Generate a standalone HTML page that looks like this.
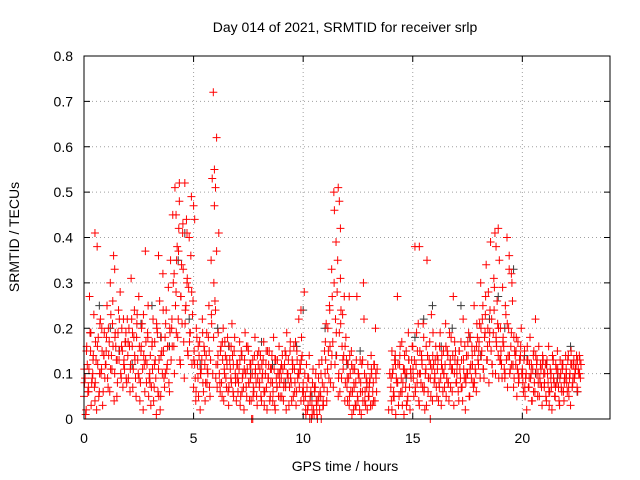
<!DOCTYPE html>
<html><head><meta charset="utf-8"><style>
html,body{margin:0;padding:0;background:#fff;}
svg{display:block;font-family:"Liberation Sans",sans-serif;}
</style></head><body>
<svg id="chart" width="640" height="480" viewBox="0 0 640 480" xmlns="http://www.w3.org/2000/svg">
<rect width="640" height="480" fill="#fff"/>
<g id="grid"></g>
<g id="marks"></g>
<g id="axes"></g>
<text x="345" y="32" font-size="14" text-anchor="middle">Day 014 of 2021, SRMTID for receiver srlp</text>
<text x="345" y="471" font-size="14" text-anchor="middle">GPS time / hours</text>
<text x="0" y="0" font-size="14" text-anchor="middle" transform="translate(19,237) rotate(-90)">SRMTID / TECUs</text>
</svg>
<script>
const xTicks=[0,5,10,15,20];
const yTicks=[0,0.1,0.2,0.3,0.4,0.5,0.6,0.7,0.8];
const yTickLabels=["0","0.1","0.2","0.3","0.4","0.5","0.6","0.7","0.8"];
const blockHours=[0,1,2,3,4,5,6,7,8,9,10,11,12,13,14,15,16,17,18,19,20,21,22];
const redV=[
[.05,.09,.02,.12,.07,.27,.15,.08,.10,.23,.04,.13,.38,.18,.06,.22,.11,.03,.14,.09],
[.12,.25,.07,.17,.30,.14,.21,.36,.10,.16,.05,.19,.13,.28,.09,.15,.22,.11,.17,.08],
[.14,.20,.06,.31,.16,.11,.24,.09,.18,.13,.27,.04,.15,.21,.02,.12,.37,.08,.19,.05],
[.10,.03,.16,.22,.07,.13,.01,.19,.11,.26,.05,.15,.32,.09,.18,.24,.12,.29,.06,.35],
[.20,.45,.16,.51,.28,.38,.22,.48,.12,.34,.41,.17,.52,.25,.30,.14,.40,.19,.49,.23],
[.07,.12,.04,.18,.09,.14,.02,.11,.22,.06,.15,.08,.19,.10,.25,.05,.35,.53,.72,.47],
[.24,.62,.12,.41,.08,.16,.05,.20,.11,.14,.07,.18,.03,.13,.09,.21,.06,.15,.10,.04],
[.12,.08,.17,.05,.14,.10,.02,.19,.07,.11,.15,.04,.09,.00,.13,.06,.18,.08,.03,.12],
[.07,.14,.04,.10,.17,.06,.12,.02,.09,.15,.05,.11,.08,.18,.03,.13,.07,.10,.16,.05],
[.09,.14,.04,.12,.07,.19,.10,.03,.15,.08,.13,.05,.11,.17,.06,.09,.22,.12,.04,.14],
[.08,.28,.05,.12,.02,.09,.00,.06,.03,.11,.01,.07,.04,.00,.09,.02,.05,.13,.03,.07],
[.10,.21,.06,.15,.25,.08,.33,.17,.50,.12,.39,.28,.05,.19,.31,.09,.23,.14,.04,.18],
[.07,.12,.03,.10,.15,.06,.02,.11,.08,.27,.04,.09,.13,.01,.06,.30,.10,.03,.07,.12],
[.05,.09,.14,.03,.08,.12,.20,.06],
[.07,.02,.11,.05,.14,.09,.27,.03,.12,.06,.17,.08,.01,.10,.15,.04,.19,.07,.11,.13],
[.16,.05,.38,.12,.08,.21,.03,.10,.14,.07,.18,.02,.11,.35,.06,.13,.09,.23,.04,.12],
[.10,.16,.05,.13,.08,.19,.03,.11,.15,.07,.21,.09,.14,.04,.12,.18,.06,.27,.10,.15],
[.08,.13,.04,.11,.17,.07,.22,.09,.02,.14,.10,.19,.05,.12,.16,.08,.25,.11,.06,.18],
[.12,.21,.30,.15,.25,.09,.19,.34,.13,.28,.17,.39,.22,.10,.31,.41,.18,.26,.14,.35],
[.20,.12,.29,.16,.09,.23,.40,.14,.33,.11,.19,.26,.07,.15,.12,.05,.17,.09,.13,.20],
[.11,.06,.15,.09,.02,.13,.07,.18,.10,.04,.14,.08,.22,.12,.05,.16,.09,.11,.03,.13],
[.07,.12,.04,.10,.16,.06,.09,.02,.13,.08,.05,.11,.15,.07,.03,.10,.06,.12,.04,.09],
[.11,.06,.14,.09,.03,.12,.08,.13,.10,.12,.07,.11,.14,.09]
];
const redV2=[
[.08,.01,.16,.06,.11,.19,.03,.09,.14,.07,.17,.02,.12,.05,.21,.10,.15,.06,.19,.12],
[.18,.09,.14,.06,.23,.11,.16,.04,.19,.13,.08,.24,.15,.10,.20,.07,.13,.17,.09,.22],
[.09,.16,.12,.22,.07,.18,.13,.05,.23,.10,.16,.08,.20,.11,.14,.06,.17,.12,.25,.09],
[.14,.07,.11,.04,.17,.09,.20,.06,.13,.02,.18,.10,.15,.07,.21,.11,.16,.08,.19,.13],
[.16,.30,.10,.25,.35,.18,.42,.13,.27,.21,.33,.09,.24,.44,.15,.29,.19,.36,.12,.26],
[.15,.09,.20,.12,.05,.17,.10,.13,.08,.16,.04,.14,.11,.18,.07,.13,.21,.10,.30,.26],
[.12,.07,.19,.10,.15,.08,.13,.04,.17,.09,.12,.06,.16,.11,.08,.14,.05,.18,.09,.12],
[.06,.11,.03,.15,.09,.07,.13,.10,.05,.16,.08,.12,.04,.10,.07,.14,.11,.05,.09,.15],
[.11,.05,.09,.13,.03,.10,.07,.15,.12,.04,.08,.14,.06,.11,.02,.09,.13,.05,.08,.11],
[.05,.11,.08,.15,.02,.10,.13,.07,.09,.04,.12,.16,.08,.03,.13,.10,.07,.11,.18,.06],
[.04,.10,.01,.07,.03,.14,.05,.00,.08,.02,.06,.10,.01,.04,.12,.06,.00,.08,.03,.15],
[.13,.04,.20,.09,.16,.12,.27,.07,.46,.22,.14,.35,.10,.06,.24,.16,.11,.27,.08,.13],
[.04,.09,.14,.06,.01,.11,.07,.03,.13,.05,.10,.02,.08,.12,.04,.22,.06,.09,.02,.05],
[.08,.03,.10,.06,.12,.04,.09,.11],
[.04,.10,.06,.13,.01,.08,.12,.05,.16,.09,.03,.11,.14,.07,.10,.05,.13,.02,.09,.16],
[.09,.13,.06,.19,.10,.04,.15,.08,.12,.21,.07,.10,.03,.14,.09,.17,.05,.11,.19,.08],
[.13,.07,.11,.04,.16,.09,.14,.06,.10,.12,.05,.15,.08,.19,.07,.11,.14,.03,.13,.08],
[.12,.06,.15,.09,.13,.04,.11,.16,.08,.10,.14,.05,.18,.09,.12,.07,.15,.10,.21,.13],
[.17,.09,.14,.22,.11,.18,.27,.13,.20,.08,.24,.15,.12,.19,.29,.10,.16,.21,.09,.13],
[.15,.09,.18,.11,.25,.13,.07,.20,.10,.16,.30,.12,.09,.14,.18,.11,.08,.13,.16,.10],
[.08,.13,.05,.10,.16,.07,.12,.09,.04,.11,.15,.06,.10,.13,.08,.05,.12,.07,.14,.10],
[.10,.05,.13,.08,.03,.11,.07,.14,.09,.05,.12,.08,.10,.04,.13,.07,.11,.06,.09,.14],
[.08,.13,.05,.10,.15,.07,.12,.09,.11,.14,.06,.10,.13,.12]
];
const redV3=[
[.11,.15,.06,.19,.13,.08,.16,.10,.20,.14],
[.15,.20,.11,.26,.18,.13,.22,.16,.12,.19],
[.17,.11,.19,.14,.21,.09,.16,.23,.13,.18],
[.08,.17,.12,.21,.05,.14,.24,.10,.16,.20],
[.22,.32,.19,.37,.27,.43,.21,.31,.17,.28],
[.13,.06,.16,.10,.19,.12,.08,.15,.23,.18],
[.09,.14,.06,.17,.10,.13,.07,.16,.12,.08],
[.09,.13,.06,.11,.16,.08,.12,.05,.10,.14],
[.08,.12,.06,.15,.09,.11,.04,.13,.07,.10],
[.12,.07,.14,.09,.17,.11,.06,.15,.10,.13],
[.06,.02,.09,.04,.01,.07,.03,.05,.10,.04],
[.17,.11,.24,.14,.30,.19,.09,.21,.13,.16],
[.09,.05,.12,.08,.03,.10,.06,.13,.04,.08],
[.07,.11,.04,.10],
[.09,.05,.12,.08,.14,.06,.11,.03,.13,.10],
[.11,.07,.15,.10,.13,.06,.16,.09,.12,.14],
[.09,.14,.07,.12,.10,.16,.08,.13,.11,.17],
[.10,.15,.07,.13,.09,.17,.11,.14,.08,.16],
[.15,.20,.11,.23,.16,.19,.12,.24,.17,.20],
[.13,.17,.10,.21,.14,.12,.18,.15,.10,.14],
[.10,.07,.13,.09,.12,.06,.14,.10,.08,.12],
[.08,.12,.06,.10,.13,.07,.11,.09,.12,.08],
[.10,.07,.12,.09,.11,.13,.10]
];
const extraT=[7.7,15.8,13.9,13.95,14.05,0.5,1.4,4.2,4.35,4.7,5.0,5.05,5.95,6.0,6.05,11.6,11.65,11.7,12.1,18.9,18.8,19.4,19.5,15.3,9.9,3.4];
const extraV=[0,0,0.02,0.10,0.15,0.41,0.33,0.45,0.52,0.41,0.47,0.44,0.55,0.51,0.37,0.51,0.48,0.42,0.27,0.42,0.38,0.36,0.32,0.38,0.24,0.36];
const grayT=[0.3,0.7,1.2,1.6,2.2,2.6,3.1,3.5,3.9,4.3,4.6,4.8,5.3,6.1,6.6,7.2,7.6,8.1,8.6,9.2,9.7,10.0,10.4,11.0,11.5,12.0,12.6,14.2,14.7,15.1,15.5,15.9,16.3,16.8,17.2,17.6,18.1,18.5,18.9,19.2,19.6,20.1,20.6,21.1,21.6,22.2,22.5];
const grayV=[0.19,0.25,0.2,0.15,0.12,0.21,0.25,0.18,0.16,0.35,0.41,0.22,0.12,0.2,0.16,0.14,0.1,0.17,0.12,0.08,0.16,0.24,0.05,0.2,0.14,0.12,0.15,0.13,0.09,0.18,0.22,0.25,0.16,0.2,0.25,0.18,0.14,0.22,0.27,0.2,0.33,0.14,0.1,0.12,0.09,0.16,0.06];

const L=84,R=610,T=56,B=419,XMAX=24,YMAX=0.8;
const sx=t=>L+(t/XMAX)*(R-L);
const sy=v=>B-(v/YMAX)*(B-T);
const NS="http://www.w3.org/2000/svg";
function mk(tag,attrs,parent){const e=document.createElementNS(NS,tag);for(const k in attrs)e.setAttribute(k,attrs[k]);parent.appendChild(e);return e;}
const grid=document.getElementById('grid'),axes=document.getElementById('axes'),marks=document.getElementById('marks');
xTicks.forEach(t=>{
  const x=sx(t);
  if(t>0){const g=mk('line',{x1:x,y1:T,x2:x,y2:B,stroke:'#a0a0a0','stroke-dasharray':'1,3','stroke-width':1},grid);
  
  }
  mk('line',{x1:x,y1:B,x2:x,y2:B-6,stroke:'#000'},axes);
  mk('line',{x1:x,y1:T,x2:x,y2:T+6,stroke:'#000'},axes);
  const lb=mk('text',{x:x,y:B+24,'font-size':14,'text-anchor':'middle'},axes);lb.textContent=t;
  
  
});
yTicks.forEach((v,i)=>{
  const y=sy(v);
  if(i>0&&i<yTicks.length-1){const g=mk('line',{x1:L,y1:y,x2:R,y2:y,stroke:'#a0a0a0','stroke-dasharray':'1,3','stroke-width':1},grid);
  
  }
  mk('line',{x1:L,y1:y,x2:L+6,y2:y,stroke:'#000'},axes);
  mk('line',{x1:R,y1:y,x2:R-6,y2:y,stroke:'#000'},axes);
  const lb=mk('text',{x:L-11,y:y+5,'font-size':14,'text-anchor':'end'},axes);lb.textContent=yTickLabels[i];
  
  
});
const frame=mk('rect',{x:L,y:T,width:R-L,height:B-T,fill:'none',stroke:'#000'},axes);


function plus(t,v,col){
  const x=sx(t),y=sy(v);
  const p=mk('path',{d:`M${x-4},${y}H${x+4}M${x},${y-4}V${y+4}`,stroke:col,'stroke-width':1,fill:'none'},marks);
  
  
}
for(let i=0;i<grayT.length;i++)plus(grayT[i],grayV[i],'#3a3a3a');
blockHours.forEach((h,bi)=>{
  redV[bi].forEach((v,j)=>plus(h+j*0.05,v,'#ff0000'));
  redV2[bi].forEach((v,j)=>plus(h+0.025+j*0.05,v,'#ff0000'));
  redV3[bi].forEach((v,j)=>plus(h+0.0125+j*0.1,v,'#ff0000'));
});
for(let i=0;i<extraT.length;i++)plus(extraT[i],extraV[i],'#ff0000');
</script>
</body></html>
